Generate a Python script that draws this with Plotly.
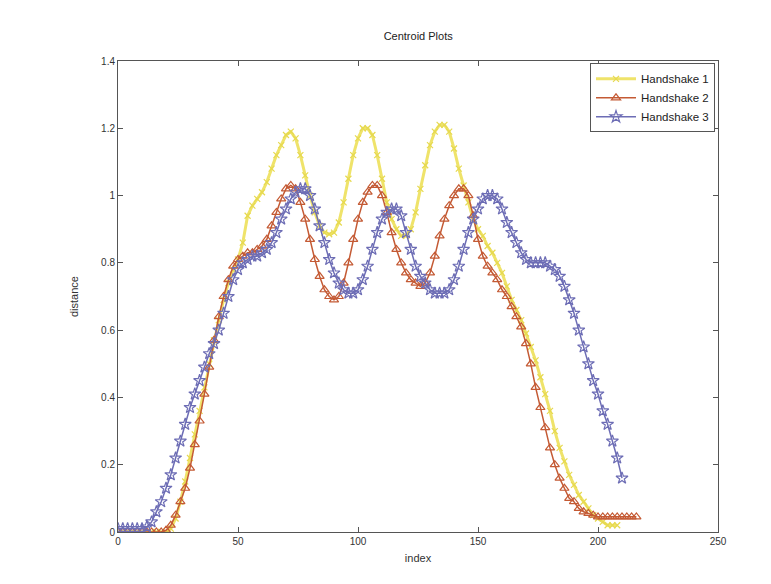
import plotly.graph_objects as go

# Handshake 1 (yellow), sampled every 2 indices starting at 0
h1 = [0.0, 0.0, 0.0, 0.0, 0.0, 0.0, 0.0, 0.0, 0.0, 0.0, 0.0,
      0.01, 0.04, 0.09, 0.15, 0.22, 0.29, 0.36, 0.43, 0.50, 0.57,
      0.63, 0.69, 0.74, 0.78, 0.81, 0.86, 0.94, 0.97, 0.99, 1.01,
      1.04, 1.08, 1.12, 1.15, 1.18, 1.19, 1.17, 1.12, 1.06, 1.00,
      0.95, 0.91, 0.89, 0.885, 0.89, 0.92, 0.98, 1.05, 1.12, 1.17,
      1.20, 1.20, 1.18, 1.12, 1.05, 0.98, 0.93, 0.90, 0.88, 0.88,
      0.90, 0.95, 1.02, 1.09, 1.15, 1.19, 1.21, 1.21, 1.19, 1.14,
      1.08, 1.03, 0.98, 0.93, 0.90, 0.88, 0.85, 0.83, 0.80, 0.77,
      0.73, 0.69, 0.66, 0.63, 0.59, 0.55, 0.51, 0.46, 0.41, 0.36,
      0.30, 0.25, 0.21, 0.17, 0.14, 0.11, 0.09, 0.07, 0.05, 0.04,
      0.03, 0.02, 0.02, 0.02]

# Handshake 2 (red, triangles)
h2 = [0.0, 0.0, 0.0, 0.0, 0.0, 0.0, 0.0, 0.0, 0.0, 0.0, 0.005,
      0.02, 0.05, 0.09, 0.13, 0.19, 0.26, 0.33, 0.41, 0.49, 0.57,
      0.64, 0.70, 0.75, 0.79, 0.81, 0.82, 0.83, 0.83, 0.84, 0.85,
      0.87, 0.91, 0.95, 0.99, 1.02, 1.03, 1.02, 0.98, 0.93, 0.87,
      0.81, 0.76, 0.72, 0.70, 0.69, 0.70, 0.74, 0.80, 0.87, 0.93,
      0.98, 1.01, 1.03, 1.03, 1.00, 0.95, 0.89, 0.84, 0.80, 0.77,
      0.75, 0.74, 0.73, 0.74, 0.77, 0.82, 0.88, 0.93, 0.97, 1.00,
      1.02, 1.02, 1.00, 0.94, 0.87, 0.82, 0.79, 0.77, 0.75, 0.72,
      0.70, 0.67, 0.64, 0.61, 0.56, 0.50, 0.43, 0.37, 0.31, 0.25,
      0.20, 0.16, 0.13, 0.10, 0.09, 0.07, 0.06, 0.055, 0.05, 0.045,
      0.045, 0.045, 0.045, 0.045, 0.045, 0.045, 0.045, 0.045]

# Handshake 3 (blue, stars)
h3 = [0.01, 0.01, 0.01, 0.01, 0.01, 0.01, 0.015, 0.03, 0.06, 0.09, 0.13,
      0.17, 0.22, 0.27, 0.32, 0.37, 0.41, 0.45, 0.49, 0.53, 0.56,
      0.60, 0.65, 0.70, 0.75, 0.78, 0.80, 0.81, 0.82, 0.82, 0.83,
      0.84, 0.86, 0.89, 0.93, 0.96, 0.99, 1.01, 1.02, 1.02, 1.00,
      0.96, 0.91, 0.86, 0.81, 0.77, 0.74, 0.72, 0.71, 0.71, 0.72,
      0.75, 0.79, 0.84, 0.89, 0.93, 0.95, 0.96, 0.96, 0.94, 0.89,
      0.84, 0.79, 0.76, 0.74, 0.72, 0.71, 0.71, 0.71, 0.72, 0.75,
      0.79, 0.84, 0.89, 0.93, 0.96, 0.99, 1.00, 1.00, 0.99, 0.96,
      0.92, 0.89, 0.86, 0.83, 0.81, 0.80, 0.80, 0.80, 0.80, 0.79,
      0.78, 0.76, 0.73, 0.69, 0.65, 0.60, 0.55, 0.50, 0.45, 0.41,
      0.36, 0.32, 0.27, 0.22, 0.16]

step = 2
x1 = list(range(0, len(h1) * step, step))
x2 = list(range(0, len(h2) * step, step))
x3 = list(range(0, len(h3) * step, step))

fig = go.Figure()
fig.add_trace(go.Scatter(
    x=x1, y=h1, name="Handshake 1", mode="lines+markers",
    line=dict(color="#efe36a", width=3),
    marker=dict(symbol="x-thin-open", size=6, color="#e6d94f",
                line=dict(width=1.2, color="#e6d94f"))))
fig.add_trace(go.Scatter(
    x=x2, y=h2, name="Handshake 2", mode="lines+markers",
    line=dict(color="#c45a34", width=1.5),
    marker=dict(symbol="triangle-up-open", size=8, color="#c45a34",
                line=dict(width=1.2, color="#c45a34"))))
fig.add_trace(go.Scatter(
    x=x3, y=h3, name="Handshake 3", mode="lines+markers",
    line=dict(color="#6d6db5", width=1.5),
    marker=dict(symbol="star-open", size=9, color="#6d6db5",
                line=dict(width=1.2, color="#6d6db5"))))

axis_common = dict(
    showline=True, linecolor="#555555", linewidth=1, mirror="ticks",
    ticks="inside", ticklen=5, tickcolor="#555555", showgrid=False,
    zeroline=False, tickfont=dict(family="Liberation Sans, Arial", size=10, color="#333333"),
)

fig.update_layout(
    width=771, height=584,
    margin=dict(l=110, r=61, t=53, b=60),
    paper_bgcolor="white", plot_bgcolor="white",
    title=dict(text="Centroid Plots", x=0.532, xanchor="center", y=0.952, yanchor="middle",
               font=dict(family="Liberation Sans, Arial", size=11, color="#222222")),
    xaxis=dict(range=[0, 250], tickvals=[0, 50, 100, 150, 200, 250],
               title=dict(text="index", font=dict(family="Liberation Sans, Arial", size=11, color="#333333"),
                          standoff=8),
               **axis_common),
    yaxis=dict(range=[0, 1.4], tickvals=[0, 0.2, 0.4, 0.6, 0.8, 1, 1.2, 1.4],
               ticktext=["0", "0.2", "0.4", "0.6", "0.8", "1", "1.2", "1.4"],
               title=dict(text="distance", font=dict(family="Liberation Sans, Arial", size=11, color="#333333"),
                          standoff=20),
               **axis_common),
    legend=dict(x=0.995, xanchor="right", y=0.995, yanchor="top",
                bgcolor="white", bordercolor="#555555", borderwidth=1,
                font=dict(family="Liberation Sans, Arial", size=11.5, color="#222222"),
                itemwidth=40, tracegroupgap=0),
    showlegend=True,
)

fig.write_html("out.html")
